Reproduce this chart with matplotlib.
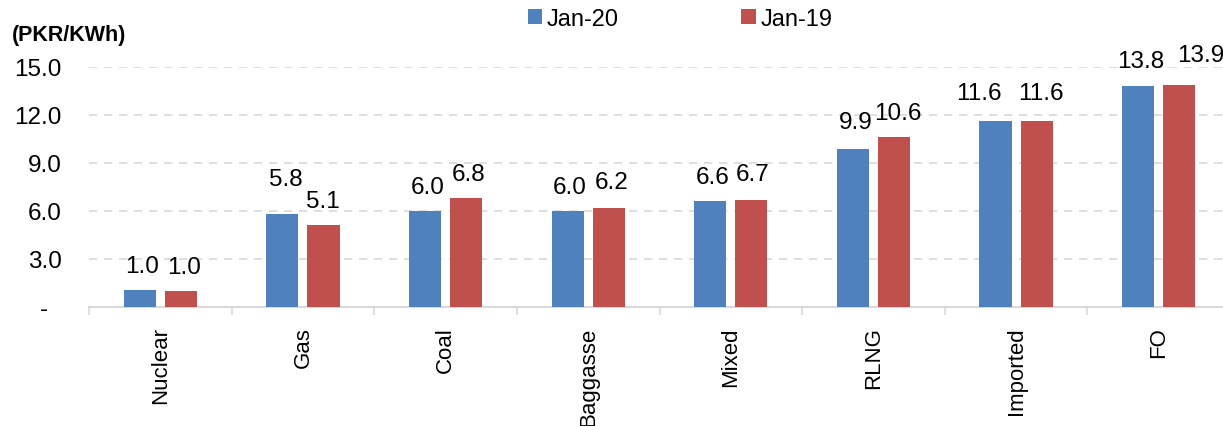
"""Generation cost by fuel type, Jan-20 vs Jan-19."""

import matplotlib
matplotlib.use("Agg")
import matplotlib.pyplot as plt
import numpy as np

categories = ["Nuclear", "Gas", "Coal", "Baggasse", "Mixed", "RLNG", "Imported", "FO"]
jan20 = [1.04, 5.8, 6.0, 6.0, 6.6, 9.9, 11.6, 13.8]
jan19 = [0.97, 5.1, 6.8, 6.2, 6.7, 10.6, 11.6, 13.9]
series_names = ["Jan-20", "Jan-19"]
y_ticks = [0, 3, 6, 9, 12, 15]

# hand-placed label nudges (dx, dy) in pixels, as in the source chart
nudge20 = [(2, 0), (3, 11), (3, 0), (2, 0), (2, 0), (3, 2), (-17, 4), (3, 1)]
nudge19 = [(3, 0), (-1, 0), (2, 0), (3, 1), (1, 1), (4, 0), (4, 4), (22, 5)]

BLUE = "#4F81BD"
RED = "#C0504D"
GRID = "#D9D9D9"

plt.rcParams["font.family"] = ["Liberation Sans", "DejaVu Sans"]

fig = plt.figure(figsize=(12.23, 4.27), dpi=100)
# plot area runs a little past the right edge of the image, as in the source
ax = fig.add_axes([89 / 1223, (427 - 308) / 427, 1141 / 1223, 240 / 427])

x = np.arange(len(categories))
width = 0.225
offset = 0.144
bars20 = ax.bar(x - offset, jan20, width, color=BLUE, label=series_names[0], zorder=3)
bars19 = ax.bar(x + offset, jan19, width, color=RED, label=series_names[1], zorder=3)

for bars, nudges in ((bars20, nudge20), (bars19, nudge19)):
    for bar, (dx, dy) in zip(bars, nudges):
        h = bar.get_height()
        ax.annotate(f"{h:.1f}", (bar.get_x() + bar.get_width() / 2, h),
                    xytext=(dx, 13.5 + dy), textcoords="offset pixels",
                    ha="center", va="bottom", fontsize=17.5, zorder=4,
                    annotation_clip=False)

ax.set_xlim(-0.5, len(categories) - 0.5)
ax.set_ylim(0, 15)
ax.set_yticks(y_ticks)
ax.set_yticklabels(["-  "] + [f"{v:.1f}" for v in y_ticks[1:]], fontsize=17.5)
ax.tick_params(axis="y", length=0, pad=19.5)

ax.set_xticks(x)
ax.set_xticklabels(categories, rotation=90, fontsize=16, va="top", ha="center")
ax.tick_params(axis="x", which="major", length=0, pad=14)
ax.set_xticks(np.arange(-0.5, len(categories), 1), minor=True)
ax.tick_params(axis="x", which="minor", length=6, color=GRID, width=1.2)

ax.yaxis.grid(True, linestyle=(0, (5, 4)), color=GRID, linewidth=1.2, zorder=0)
for side in ("top", "right", "left"):
    ax.spines[side].set_visible(False)
ax.spines["bottom"].set_color(GRID)
ax.spines["bottom"].set_linewidth(1.5)

fig.text(12 / 1223, 1 - 35 / 427, "(PKR/KWh)", fontsize=15.5, fontweight="bold",
         va="center", ha="left")

fig.legend(loc="center", bbox_to_anchor=(0.556, 1 - 20 / 427), ncol=2, frameon=False,
           fontsize=17, handlelength=0.6, handleheight=0.6, handletextpad=0.2,
           columnspacing=5.2)

fig.savefig("out.png", dpi=100)
